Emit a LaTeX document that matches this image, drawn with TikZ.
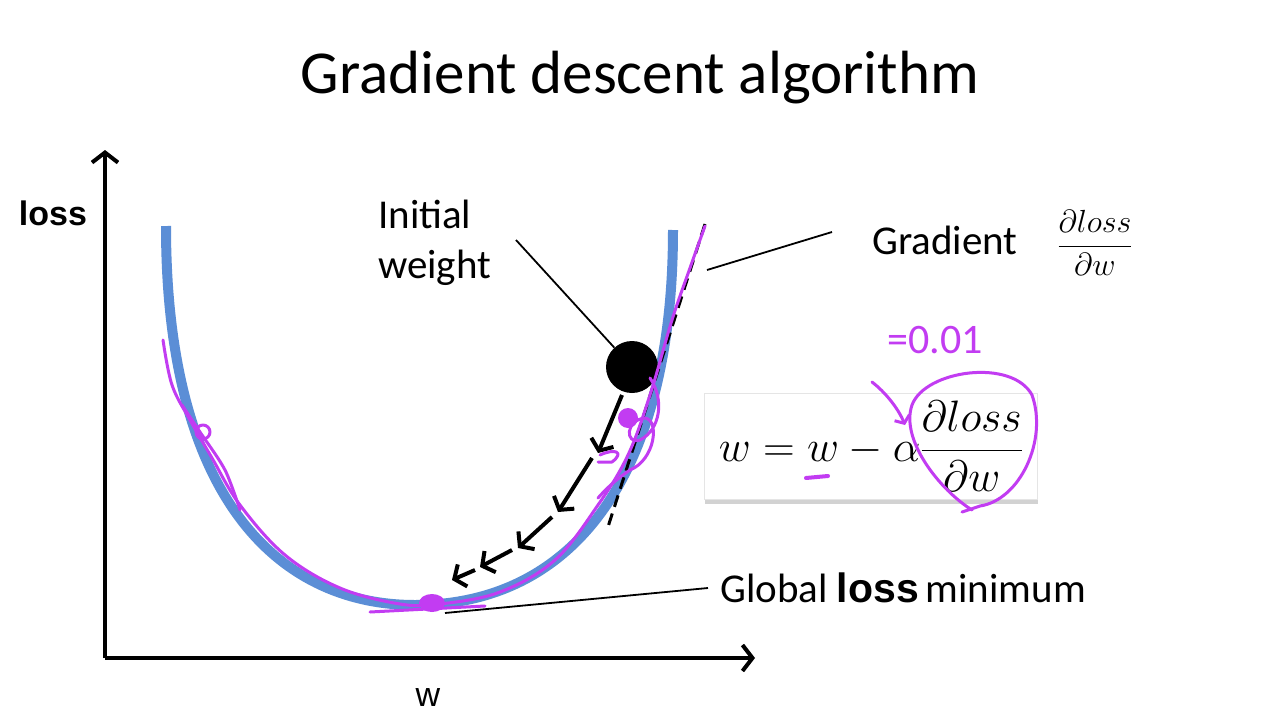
\RequirePackage{fix-cm}
\documentclass[tikz,border=0pt]{standalone}
\usepackage{fontspec}
\setmainfont{Carlito}
\newfontfamily\arialfont{Liberation Sans}
\usetikzlibrary{arrows.meta, shadows}

\begin{document}
\begin{tikzpicture}[x=1pt,y=-1pt,
		axis/.style={line width=4pt,-{Straight Barb[length=10pt,width=26pt]}},
		stepArrow/.style={line width=4pt,-{Straight Barb[length=9pt,width=24pt]}},
		pointer/.style={line width=1.8pt},
		pen/.style={draw=penpurple,line width=3pt,line cap=round,line join=round},
		txt/.style={font=\fontsize{41}{50}\selectfont, inner sep=0pt}]
		\definecolor{curveblue}{HTML}{5B8ED6}
		\definecolor{penpurple}{HTML}{C23CF2}
		\useasboundingbox (0,0) rectangle (1280,720);
		\fill[white] (0,0) rectangle (1280,720);

		\node[font=\fontsize{61}{72}\selectfont] (title) at (640,78) {Gradient descent algorithm};

		% axes
		\coordinate (origin) at (105,658);
		\coordinate (ytop) at (105,150);
		\coordinate (xend) at (755,658);
		\draw[axis] (origin) -- (ytop);
		\draw[axis] (origin) -- (xend);
		\node[font=\arialfont\bfseries\fontsize{34}{40}\selectfont] (lossLabel) at (53,213) {loss};
		\node[font=\arialfont\fontsize{34}{40}\selectfont] (wLabel) at (428,698) {w};

		% the loss curve and its tangent
		\draw[curveblue, line width=10pt] (166,226) .. controls (166,500) and (280,605) .. (415,605)
		.. controls (570,605) and (673,480) .. (673,230);
		\coordinate (tanTop) at (705,224);
		\coordinate (tanBot) at (607,530);
		\draw[line width=3pt, dash pattern=on 12pt off 7pt] (tanTop) -- (tanBot);

		% steps down the curve
		\foreach \sx/\sy/\ex/\ey in {622/395/598/453, 592/458/558/512, 552/517/518/548, 512/550/480/567, 475/570/452/580}{
				\draw[stepArrow] (\sx,\sy) -- (\ex,\ey);
			}
		\node[circle, fill=black, minimum size=52pt, inner sep=0pt] (ball) at (632,367) {};

		% hand notes
		\draw[pen] plot[smooth, tension=0.6] coordinates {(163,340) (172,385) (190,420) (212,458) (240,505) (285,555) (340,588) (400,604) (440,604) (500,592) (555,560) (598,505) (628,455) (650,395) (672,320) (690,268) (705,226)};
		\draw[pen] plot[smooth] coordinates {(182,405) (200,432) (225,470) (240,510)};
		\draw[pen] (203,432) circle (7);
		\draw[pen] (370,612) -- (485,606);
		\fill[penpurple] (432,603) ellipse (13 and 9);
		\fill[penpurple] (628,418) circle (10);
		\draw[pen] (650,378) .. controls (665,400) and (660,430) .. (640,440) .. controls (625,445) and (625,420) .. (645,418)
		.. controls (660,420) and (655,460) .. (630,470) .. controls (615,480) and (605,490) .. (598,498);
		\draw[pen] (600,455) .. controls (615,448) and (625,452) .. (612,462) -- (598,462);

		% labels
		\node[txt, anchor=north west, align=left] (initText) at (378,200) {Initial\\weight};
		\coordinate (initEnd) at (516,240);
		\draw[pointer] (initEnd) -- (ball);

		\node[txt, anchor=west] (gradText) at (872,240) {Gradient};
		\node[font=\fontsize{32}{38}\selectfont, inner sep=0pt] (gradFrac) at (1095,243) {$\displaystyle\frac{\partial loss}{\partial w}$};
		\coordinate (gradEnd) at (832,232);
		\coordinate (tanTouch) at (707,270);
		\draw[pointer] (gradEnd) -- (tanTouch);

		\node[draw=black!10, fill=white, drop shadow={shadow xshift=0pt, shadow yshift=-5pt, opacity=0.35},
			minimum width=333pt, minimum height=106pt, inner sep=0pt, font=\fontsize{44}{52}\selectfont] (rule) at (871,446)
			{$w = w - \alpha\displaystyle\frac{\partial loss}{\partial w}$};

		\node[txt, anchor=west] (globalText) at (720,588) {Global {\arialfont\bfseries loss}\,minimum};
		\coordinate (minPoint) at (445,613);
		\draw[pointer] ([xshift=-12pt]globalText.west) -- (minPoint);

		% learning rate scribbles
		\node[text=penpurple, font=\fontsize{42}{48}\selectfont] (rate) at (935,340) {=0.01};
		\draw[pen, -{Straight Barb[length=6pt,width=16pt]}] (872,382) .. controls (885,392) and (898,408) .. (905,425);
		\draw[pen] (972,510) .. controls (940,490) and (900,440) .. (912,405) .. controls (925,370) and (1012,358) .. (1032,395)
		.. controls (1048,440) and (1020,500) .. (980,506) -- (962,512);
		\draw[pen, line width=4pt] (806,478) -- (828,476);
	\end{tikzpicture}
\end{document}
